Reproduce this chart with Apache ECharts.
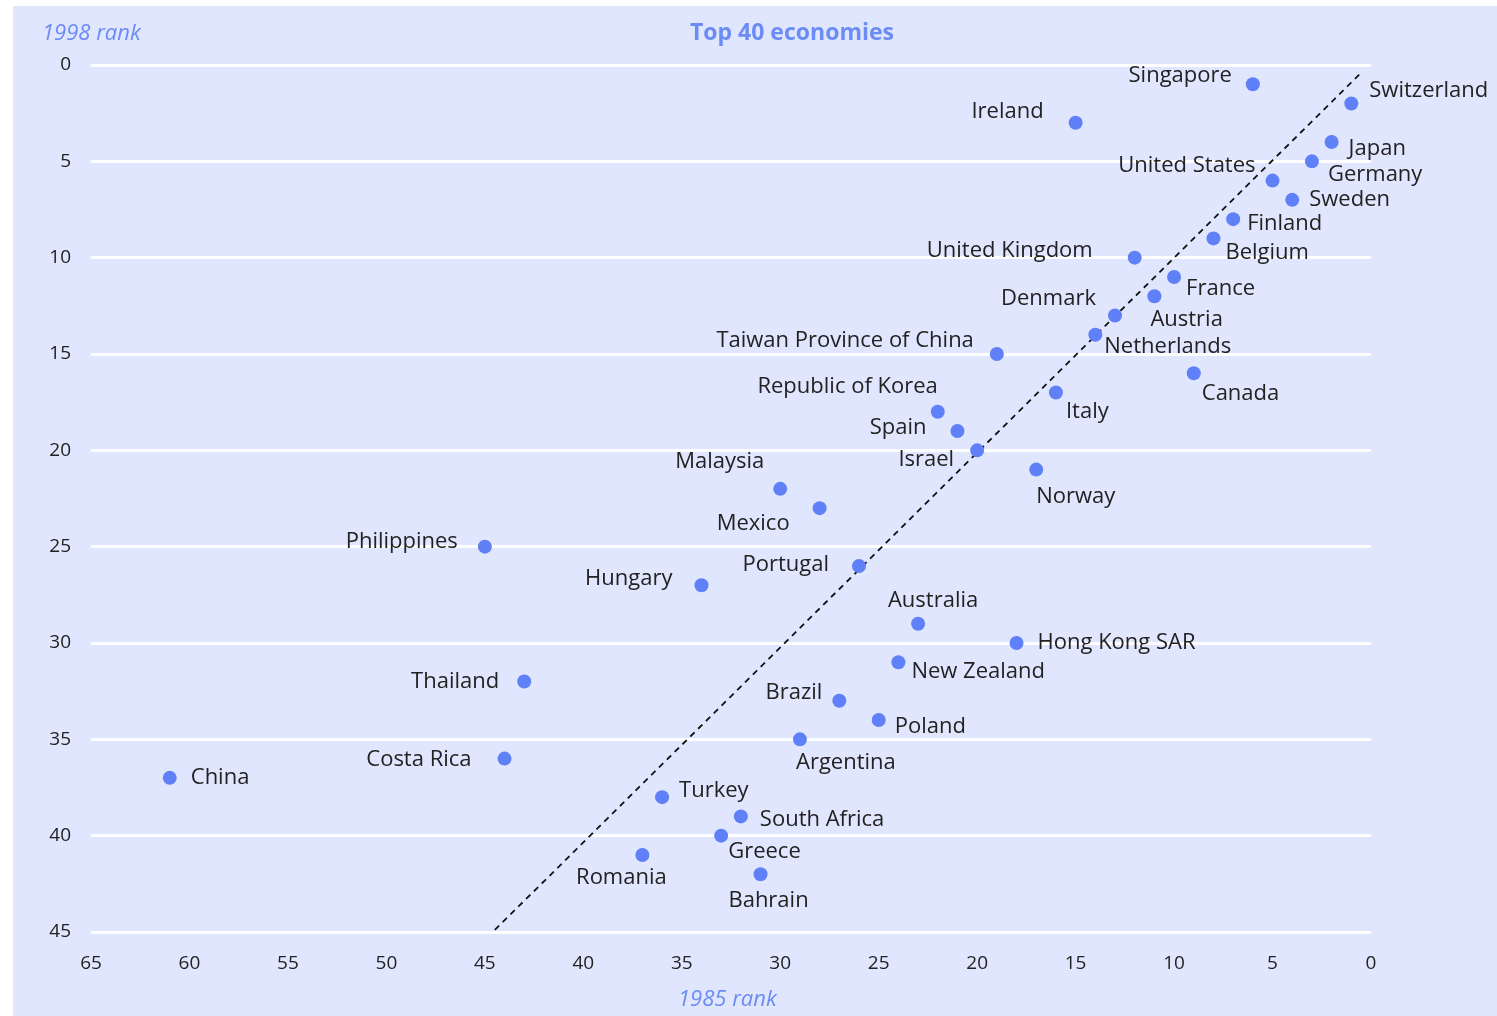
<!DOCTYPE html>
<html>
<head>
<meta charset="utf-8">
<title>Top 40 economies</title>
<script src="https://cdn.jsdelivr.net/npm/echarts@6/dist/echarts.min.js"></script>
<style>
  html, body { margin: 0; padding: 0; background: #fff; }
  #main { position: absolute; left: 13px; top: 6px; width: 1484px; height: 1010px; }
</style>
</head>
<body>
<div id="main"></div>
<script>
// economies, 1985 rank (x) and 1998 rank (y)
var names = ['Singapore', 'Switzerland', 'Ireland', 'Japan', 'Germany', 'United States', 'Sweden',
  'Finland', 'Belgium', 'United Kingdom', 'France', 'Austria', 'Denmark', 'Netherlands',
  'Taiwan Province of China', 'Canada', 'Italy', 'Republic of Korea', 'Spain', 'Israel', 'Norway',
  'Malaysia', 'Mexico', 'Philippines', 'Portugal', 'Hungary', 'Australia', 'Hong Kong SAR',
  'New Zealand', 'Thailand', 'Brazil', 'Poland', 'Argentina', 'Costa Rica', 'China', 'Turkey',
  'South Africa', 'Greece', 'Romania', 'Bahrain'];
var rank1985 = [6, 1, 15, 2, 3, 5, 4, 7, 8, 12, 10, 11, 13, 14, 19, 9, 16, 22, 21, 20, 17,
  30, 28, 45, 26, 34, 23, 18, 24, 43, 27, 25, 29, 44, 61, 36, 32, 33, 37, 31];
var rank1998 = [1, 2, 3, 4, 5, 6, 7, 8, 9, 10, 11, 12, 13, 14, 15, 16, 17, 18, 19, 20, 21,
  22, 23, 25, 26, 27, 29, 30, 31, 32, 33, 34, 35, 36, 37, 38, 39, 40, 41, 42];
// diagonal reference (same rank in both years)
var diagonal = [[0.6, 0.5], [44.6, 45]];
var xTicks = [0, 65, 5];
var yTicks = [0, 45, 5];

// where each name sits next to its dot: [position, dx, dy]
var labelPos = {
  'Singapore': ['left', -9, -9], 'Switzerland': ['right', 6, -13], 'Ireland': ['left', -20, -11],
  'Japan': ['right', 5, 7], 'Germany': ['right', 4, 13], 'United States': ['left', -5, -15],
  'Sweden': ['right', 5, 0], 'Finland': ['right', 2, 5], 'Belgium': ['right', 0, 14],
  'United Kingdom': ['left', -30, -7], 'France': ['right', 0, 12], 'Austria': ['right', -16, 24],
  'Denmark': ['left', -7, -17], 'Netherlands': ['right', -3, 12], 'Taiwan Province of China': ['left', -11, -13],
  'Canada': ['right', -4, 20], 'Italy': ['right', -2, 19], 'Republic of Korea': ['left', 12, -25],
  'Spain': ['left', -19, -3], 'Israel': ['left', -11, 9], 'Norway': ['right', -12, 27],
  'Malaysia': ['left', -4, -27], 'Mexico': ['left', -18, 16], 'Philippines': ['left', -15, -5],
  'Portugal': ['left', -18, -1], 'Hungary': ['left', -17, -6], 'Australia': ['top', 15, 0],
  'Hong Kong SAR': ['right', 9, 0], 'New Zealand': ['right', 1, 9], 'Thailand': ['left', -13, 0],
  'Brazil': ['left', -5, -8], 'Poland': ['right', 4, 7], 'Argentina': ['bottom', 46, 0],
  'Costa Rica': ['left', -21, 1], 'China': ['right', 9, 0], 'Turkey': ['right', 5, -6],
  'South Africa': ['right', 7, 3], 'Greece': ['right', -5, 16], 'Romania': ['bottom', -21, 0],
  'Bahrain': ['bottom', 8, 4]
};

var blue = '#6b8cf5';
var dotColor = '#6080f8';
var textColor = '#222';
var font = '"Open Sans", "Noto Sans", sans-serif';

var points = names.map(function (n, i) {
  var p = labelPos[n];
  return {
    name: n,
    value: [rank1985[i], rank1998[i]],
    label: { position: p[0], offset: [p[1], p[2]] }
  };
});

var chart = echarts.init(document.getElementById('main'));
chart.setOption({
  backgroundColor: '#e0e6fd',
  animation: false,
  textStyle: { fontFamily: font },
  grid: { left: 78, right: 126, top: 59, bottom: 84 },
  graphic: [
    { type: 'text', left: 29, top: 17,
      style: { text: '1998 rank', fill: blue, font: 'italic 22px ' + font } },
    { type: 'text', left: 677, top: 16,
      style: { text: 'Top 40 economies', fill: blue, font: 'bold 23px ' + font } },
    { type: 'text', left: 665, top: 983,
      style: { text: '1985 rank', fill: blue, font: 'italic 22px ' + font } }
  ],
  xAxis: {
    type: 'value',
    inverse: true,
    min: xTicks[0], max: xTicks[1], interval: xTicks[2],
    axisLine: { show: false },
    axisTick: { show: false },
    splitLine: { show: false },
    axisLabel: { color: textColor, fontSize: 19, margin: 22 }
  },
  yAxis: {
    type: 'value',
    inverse: true,
    min: yTicks[0], max: yTicks[1], interval: yTicks[2],
    axisLine: { show: false },
    axisTick: { show: false },
    splitLine: { lineStyle: { color: '#fff', width: 3 } },
    axisLabel: { color: textColor, fontSize: 19, margin: 20 }
  },
  series: [
    {
      type: 'line',
      data: diagonal,
      symbol: 'none',
      silent: true,
      lineStyle: { color: '#111', width: 1.8, type: [6, 5] },
      z: 1
    },
    {
      type: 'scatter',
      data: points,
      symbol: 'circle',
      symbolSize: 14,
      itemStyle: { color: dotColor, opacity: 1 },
      label: {
        show: true,
        formatter: '{b}',
        color: textColor,
        fontSize: 22,
        distance: 5
      },
      z: 3
    }
  ]
});
</script>
</body>
</html>
